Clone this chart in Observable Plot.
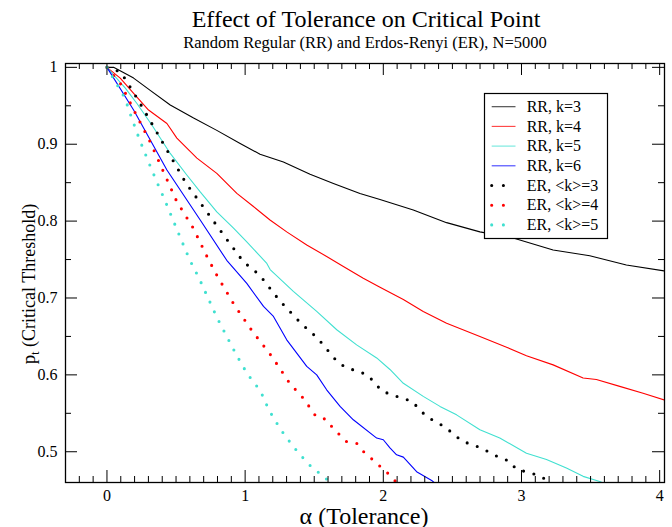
<!DOCTYPE html>
<html><head><meta charset="utf-8">
<script src="https://cdn.jsdelivr.net/npm/d3@7"></script>
<script src="https://cdn.jsdelivr.net/npm/@observablehq/plot@0.6"></script>
<style>body{margin:0;background:#fff} svg{display:block} svg text{font-family:'Liberation Serif','Times New Roman',serif}</style>
</head><body><div id="chart"></div>
<script>
// ---- data ----
const rrK3 = [[0,1],[0.048,1.0],[0.193,0.986],[0.313,0.970],[0.458,0.951],[0.627,0.934],[0.795,0.918],[0.964,0.901],[1.108,0.887],[1.277,0.877],[1.47,0.861],[1.639,0.849],[1.831,0.836],[1.976,0.828],[2.217,0.8145],[2.458,0.798],[2.699,0.786],[2.94,0.778],[3.229,0.7625],[3.494,0.755],[3.759,0.743],[4.04,0.735]];
const rrK4 = [[0,1],[0.096,0.986],[0.193,0.966],[0.301,0.9445],[0.434,0.927],[0.506,0.908],[0.651,0.882],[0.795,0.862],[0.94,0.836],[1.06,0.819],[1.18,0.8015],[1.301,0.786],[1.446,0.769],[1.59,0.754],[1.711,0.741],[1.855,0.7256],[1.976,0.714],[2.145,0.698],[2.289,0.6825],[2.458,0.667],[2.699,0.65],[2.892,0.636],[3.036,0.625],[3.229,0.613],[3.446,0.596],[3.542,0.594],[3.711,0.585],[3.88,0.576],[4.04,0.567]];
const rrK5 = [[0,1],[0.133,0.973],[0.217,0.953],[0.325,0.925],[0.458,0.888],[0.578,0.86],[0.675,0.838],[0.795,0.812],[0.916,0.791],[1.012,0.773],[1.157,0.745],[1.181,0.737],[1.349,0.7085],[1.518,0.6825],[1.663,0.6587],[1.807,0.639],[1.952,0.622],[2.048,0.607],[2.145,0.589],[2.289,0.572],[2.41,0.559],[2.53,0.548],[2.699,0.5286],[2.843,0.518],[3.036,0.498],[3.181,0.49],[3.325,0.479],[3.446,0.468],[3.566,0.4614],[3.65,0.455]];
const rrK6 = [[0,1],[0.193,0.9445],[0.434,0.8665],[0.675,0.8015],[0.867,0.749],[1.012,0.719],[1.133,0.689],[1.205,0.676],[1.301,0.6456],[1.446,0.611],[1.518,0.6],[1.59,0.5806],[1.687,0.559],[1.783,0.5416],[1.952,0.5178],[2.0,0.5156],[2.048,0.505],[2.096,0.496],[2.145,0.493],[2.241,0.474],[2.35,0.4627],[2.4,0.455]];
const erK3 = [[0,1],[0.1,0.994],[0.224,0.958],[0.342,0.9215],[0.458,0.885],[0.573,0.849],[0.711,0.815],[0.848,0.781],[0.988,0.747],[1.104,0.73],[1.248,0.697],[1.407,0.6665],[1.523,0.648],[1.672,0.616],[1.737,0.609],[1.812,0.605],[1.884,0.600],[1.937,0.590],[1.988,0.579],[2.13,0.570],[2.205,0.566],[2.311,0.546],[2.448,0.532],[2.569,0.514],[2.706,0.505],[2.839,0.4926],[2.911,0.488],[2.961,0.4775],[3.101,0.4705],[3.173,0.4645],[3.25,0.455]];
const erK4 = [[0,1],[0.101,0.978],[0.207,0.940],[0.313,0.903],[0.407,0.865],[0.504,0.826],[0.624,0.791],[0.728,0.7525],[0.80,0.728],[0.918,0.692],[1.051,0.657],[1.193,0.624],[1.323,0.589],[1.424,0.569],[1.513,0.546],[1.588,0.542],[1.634,0.531],[1.735,0.513],[1.807,0.511],[1.858,0.5],[1.971,0.482],[2.029,0.4727],[2.082,0.4627],[2.12,0.455]];
const erK5 = [[0,1],[0.13,0.96],[0.183,0.932],[0.236,0.906],[0.294,0.880],[0.354,0.854],[0.417,0.828],[0.477,0.802],[0.537,0.776],[0.598,0.750],[0.667,0.7256],[0.73,0.7007],[0.795,0.675],[0.867,0.650],[0.94,0.625],[1.017,0.601],[1.111,0.579],[1.173,0.554],[1.255,0.5295],[1.347,0.507],[1.448,0.486],[1.506,0.476],[1.568,0.4688],[1.63,0.456]];

const seriesNames = ["RR, k=3","RR, k=4","RR, k=5","RR, k=6","ER, <k>=3","ER, <k>=4","ER, <k>=5"];
const seriesData = [rrK3, rrK4, rrK5, rrK6, erK3, erK4, erK5];
const seriesColors = ["#000000","#ff0000","#40e0d0","#0000ff","#000000","#ff0000","#40e0d0"];
const seriesDotted = [false,false,false,false,true,true,true];

const xMajor = [0,1,2,3,4];
const xMinor = d3.range(-2, 41).filter(i => i % 10 !== 0).map(i => i / 10);
const yMajor = [0.5,0.6,0.7,0.8,0.9,1];
const yMinor = [0.55,0.65,0.75,0.85,0.95];

const titleText = "Effect of Tolerance on Critical Point";
const subtitleText = "Random Regular (RR) and Erdos-Renyi (ER), N=5000";
const xLabel = "α (Tolerance)";

// ---- layout ----
const W = 672, H = 527, mT = 63, mB = 45, mL = 65, mR = 8;
const plotW = W - mL - mR, plotH = H - mT - mB;
const FONT = "'Liberation Serif', 'Times New Roman', serif";

const rows = seriesData.flatMap((d, i) => d.map(([x, y]) => ({x, y, i})));
const solidRows = rows.filter(r => !seriesDotted[r.i]);
const dotRows = rows.filter(r => seriesDotted[r.i]);

const chart = Plot.plot({
  width: W, height: H,
  marginTop: mT, marginBottom: mB, marginLeft: mL, marginRight: mR,
  style: {fontFamily: FONT, fontSize: "16px", background: "#fff", color: "#000", overflow: "visible"},
  x: {domain: [-0.3, 4.035]},
  y: {domain: [0.46, 1.005]},
  marks: [
    Plot.line(solidRows, {x: "x", y: "y", z: "i", stroke: r => seriesColors[r.i], strokeWidth: 1.1, clip: true}),
    Plot.line(dotRows, {x: "x", y: "y", z: "i", stroke: r => seriesColors[r.i], strokeWidth: 3.1, strokeDasharray: "0,10.7", strokeLinecap: "round", clip: true}),
    // inward ticks, all four sides
    Plot.tickX(xMajor, {x: d => d, insetTop: plotH - 12, stroke: "#000"}),
    Plot.tickX(xMajor, {x: d => d, insetBottom: plotH - 12, stroke: "#000"}),
    Plot.tickX(xMinor, {x: d => d, insetTop: plotH - 6, stroke: "#000"}),
    Plot.tickX(xMinor, {x: d => d, insetBottom: plotH - 6, stroke: "#000"}),
    Plot.tickY(yMajor, {y: d => d, insetRight: plotW - 12, stroke: "#000"}),
    Plot.tickY(yMajor, {y: d => d, insetLeft: plotW - 12, stroke: "#000"}),
    Plot.tickY(yMinor, {y: d => d, insetRight: plotW - 6, stroke: "#000"}),
    Plot.tickY(yMinor, {y: d => d, insetLeft: plotW - 6, stroke: "#000"}),
    Plot.axisX(xMajor, {tickSize: 0, tickPadding: 7, fontSize: 16, label: null, tickFormat: d3.format("~g")}),
    Plot.axisY(yMajor, {tickSize: 0, tickPadding: 8, fontSize: 16, label: null, tickFormat: d3.format("~g")}),
    Plot.frame({stroke: "#000", strokeWidth: 1.3})
  ]
});

const svg = d3.select(chart);
// title & subtitle
svg.append("text").attr("x", 366).attr("y", 27).attr("text-anchor", "middle")
  .attr("font-size", 24).attr("fill", "#000").text(titleText);
svg.append("text").attr("x", 365).attr("y", 48).attr("text-anchor", "middle")
  .attr("font-size", 16.5).attr("fill", "#000").text(subtitleText);
// x label
svg.append("text").attr("x", 364).attr("y", 523.5).attr("text-anchor", "middle")
  .attr("font-size", 24).attr("fill", "#000").text(xLabel);
// y label with subscript
const yl = svg.append("text").attr("transform", "translate(35,284) rotate(-90)")
  .attr("text-anchor", "middle").attr("fill", "#000");
yl.append("tspan").attr("font-size", 19).text("p");
yl.append("tspan").attr("font-size", 12).attr("dy", 4).text("t");
yl.append("tspan").attr("font-size", 18).attr("dy", -4).text(" (Critical Threshold)");

// legend
const lg = svg.append("g").attr("font-size", 16).attr("text-anchor", "start");
lg.append("rect").attr("x", 484.5).attr("y", 93.5).attr("width", 123).attr("height", 145)
  .attr("fill", "#fff").attr("stroke", "#000").attr("stroke-width", 1.2);
seriesNames.forEach((name, i) => {
  const yy = 106.7 + i * 19.7;
  const ln = lg.append("line").attr("x1", 491.7).attr("x2", seriesDotted[i] ? 515.1 : 515.5)
    .attr("y1", yy).attr("y2", yy).attr("stroke", seriesColors[i]);
  if (seriesDotted[i]) ln.attr("stroke-width", 3.1).attr("stroke-dasharray", "0,11.7").attr("stroke-linecap", "round");
  else ln.attr("stroke-width", 1.1).attr("stroke-opacity", 0.75);
  lg.append("text").attr("x", 526.7).attr("y", yy).attr("dy", "0.33em").attr("text-anchor", "start")
    .attr("fill", "#000").text(name);
});

document.getElementById("chart").appendChild(chart);
</script>
</body></html>
